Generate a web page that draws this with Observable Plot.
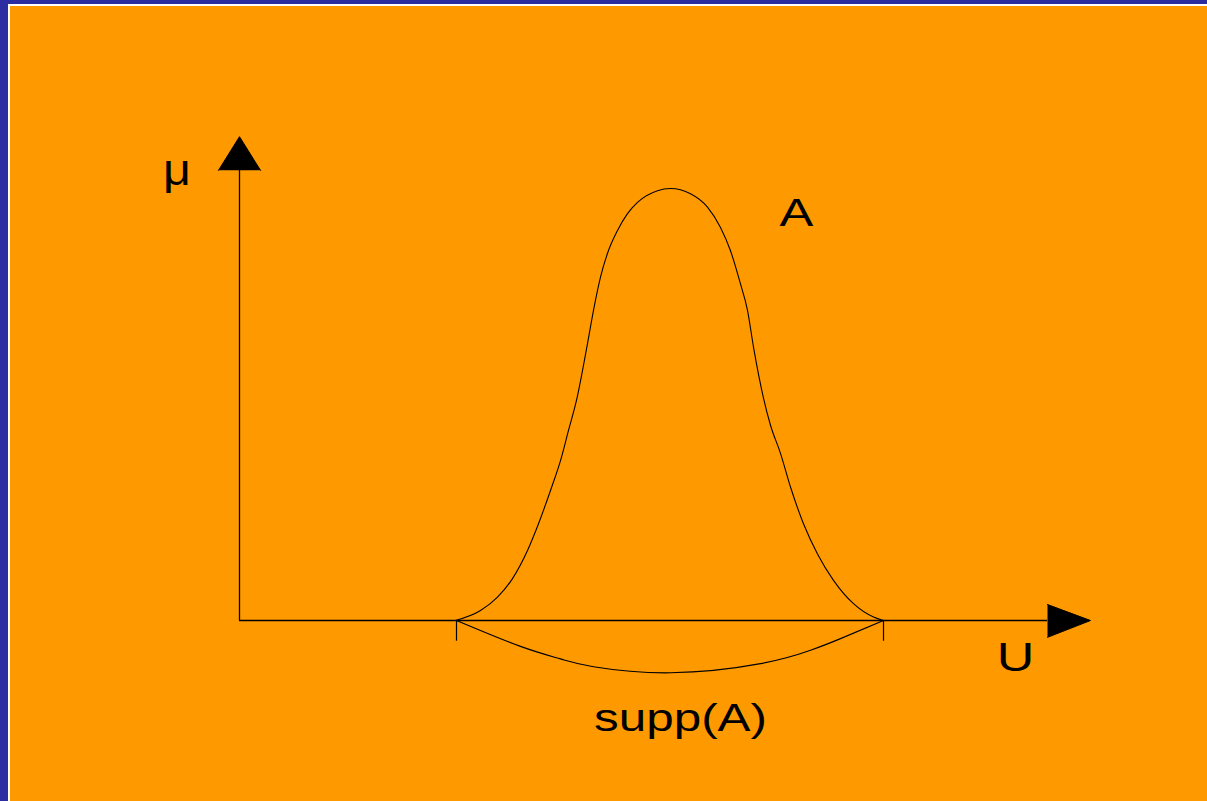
<!DOCTYPE html>
<html>
<head>
<meta charset="utf-8">
<script src="https://cdn.jsdelivr.net/npm/d3@7"></script>
<script src="https://cdn.jsdelivr.net/npm/@observablehq/plot@0.6"></script>
<style>
  html, body { margin: 0; padding: 0; width: 1207px; height: 801px; overflow: hidden; background: #2d2da2; }
  #frame { position: absolute; left: 8px; top: 4px; width: 1197px; height: 795px; background: #ff9900; border-left: 2px solid #ffffff; border-top: 2px solid #ffffff; }
  #chart { position: absolute; left: 0; top: 0; }
</style>
</head>
<body>
<div id="frame"></div>
<div id="chart"></div>
<script>
// Membership function A (bell curve): U position, membership μ
const bellU  = [2.16, 2.41, 2.58, 2.73, 2.88, 2.99, 3.11, 3.21, 3.29, 3.375, 3.48, 3.54, 3.61, 3.68, 3.78, 3.88, 3.98, 4.18, 4.31,
                4.51, 4.68, 4.81, 4.91, 5.01, 5.08, 5.14, 5.24, 5.31, 5.41, 5.51, 5.64, 5.78, 5.94, 6.14, 6.34, 6.44];
const bellMu = [0, 0.023, 0.054, 0.097, 0.162, 0.224, 0.301, 0.370, 0.440, 0.515, 0.641, 0.718, 0.795, 0.850, 0.903, 0.942, 0.968, 0.995, 1.0,
                0.988, 0.957, 0.910, 0.856, 0.779, 0.718, 0.633, 0.515, 0.452, 0.387, 0.309, 0.224, 0.154, 0.093, 0.039, 0.008, 0];

// Brace-like arc under the support
const arcU  = [2.17, 2.81, 3.21, 3.54, 4.31, 5.21, 5.71, 6.01, 6.44];
const arcMu = [0, -0.060, -0.089, -0.107, -0.121, -0.100, -0.069, -0.042, 0];

// Support end ticks
const supportEnds = [2.17, 6.44];
const tickBottom = -0.048;

// Axes: vertical μ axis and horizontal U axis with arrow heads
const muAxisTop = 1.042;
const uAxisEnd = 8.08;
const muArrowU  = [-0.21, 0, 0.21];
const muArrowMu = [1.042, 1.12, 1.042];
const uArrowU   = [8.08, 8.51, 8.08];
const uArrowMu  = [0.037, 0, -0.039];

// Labels
const labelText = ["μ", "A", "U", "supp(A)"];
const labelU    = [-0.625, 5.57, 7.76, 4.41];
const labelMu   = [1.007, 0.914, -0.118, -0.255];
const labelSize = [44, 39, 40, 38];

const bell = bellU.map((u, i) => ({u, mu: bellMu[i]}));
const arc = arcU.map((u, i) => ({u, mu: arcMu[i]}));
const muArrow = muArrowU.map((u, i) => ({u, mu: muArrowMu[i]}));
const uArrow = uArrowU.map((u, i) => ({u, mu: uArrowMu[i]}));
const labels = labelText.map((t, i) => ({t, u: labelU[i], mu: labelMu[i], s: labelSize[i]}));

const ink = "#000000";

const chart = Plot.plot({
  width: 1207,
  height: 801,
  margin: 0,
  style: { background: "transparent", overflow: "visible" },
  x: { domain: [-2.39, 9.68], range: [0, 1207], axis: null },
  y: { domain: [0, 1], range: [620, 188], axis: null },
  marks: [
    Plot.ruleX([0], { y1: 0, y2: muAxisTop, stroke: ink, strokeWidth: 1.3 }),
    Plot.ruleY([0], { x1: 0, x2: uAxisEnd, stroke: ink, strokeWidth: 1.3 }),
    Plot.ruleX(supportEnds, { y1: 0, y2: tickBottom, stroke: ink, strokeWidth: 1.2 }),
    Plot.line(muArrow, { x: "u", y: "mu", fill: ink, stroke: ink, strokeWidth: 1 }),
    Plot.line(uArrow, { x: "u", y: "mu", fill: ink, stroke: ink, strokeWidth: 1 }),
    Plot.line(bell, { x: "u", y: "mu", stroke: ink, strokeWidth: 1.1, curve: "monotone-x" }),
    Plot.line(arc, { x: "u", y: "mu", stroke: ink, strokeWidth: 1.2, curve: "natural" }),
    ...labels.map(d => Plot.text([d], {
      x: "u", y: "mu", text: "t", fill: ink,
      fontSize: d.s, fontFamily: "Liberation Sans, Arial, sans-serif",
      textAnchor: "middle", lineAnchor: "bottom"
    }))
  ]
});

document.getElementById("chart").appendChild(chart);

// The reference's lettering is horizontally stretched; widen the labels
d3.select(chart).selectAll("text").each(function() {
  const el = d3.select(this);
  const k = el.text() === "μ" ? 1.1 : 1.3;
  const tr = el.attr("transform");
  if (tr) el.attr("transform", tr + ` scale(${k},1)`);
});
</script>
</body>
</html>
